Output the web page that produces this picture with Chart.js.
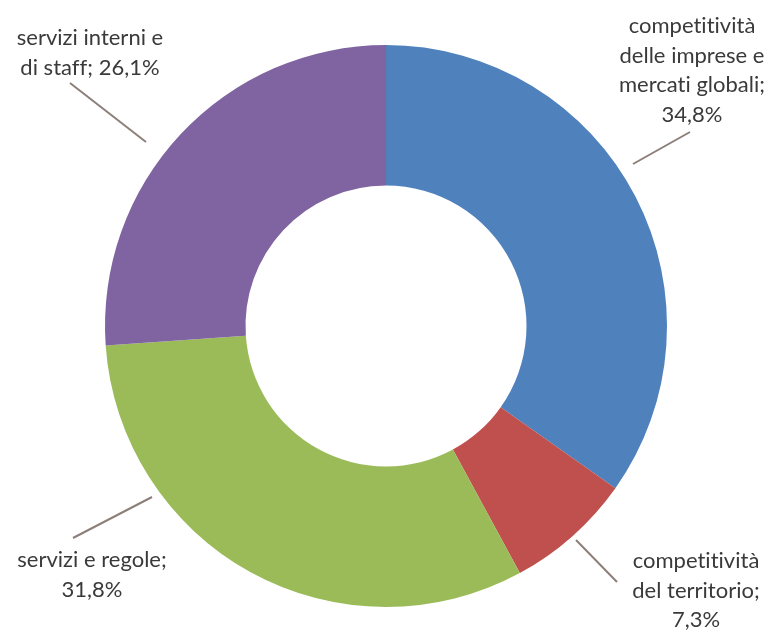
<!DOCTYPE html>
<html>
<head>
<meta charset="utf-8">
<script src="https://cdn.jsdelivr.net/npm/chart.js@4/dist/chart.umd.min.js"></script>
<style>
  html, body { margin: 0; padding: 0; background: #fff; }
  #wrap { width: 775px; height: 631px; }
</style>
</head>
<body>
<div id="wrap"><canvas id="chart1"></canvas></div>
<script>
const categories = [
    ["competitività", "delle imprese e", "mercati globali;"],
    ["competitività", "del territorio;"],
    ["servizi e regole;"],
    ["servizi interni e", "di staff;"],
];
const values = [34.8, 7.3, 31.8, 26.1];
const colors = ["#4F81BD", "#C0504D", "#9BBB59", "#8064A2"];

// label layout: text centre x, first baseline y, leader line (from label side to slice side)
const labelLayout = [
    { x: 692, y: 33, line: [[690, 132], [633, 164]] },
    { x: 696, y: 568, line: [[617, 582], [576, 540]] },
    { x: 92, y: 567, line: [[73, 538], [152, 497]] },
    { x: 90, y: 45, line: [[70, 83], [146, 142]] },
];

const fmt = (v) => v.toFixed(1).replace(".", ",") + "%";

const outsideLabels = {
    id: "outsideLabels",
    afterDraw(chart) {
        const ctx = chart.ctx;
        ctx.save();
        ctx.font = "22px Lato";
        ctx.letterSpacing = "0.01px"; // stops the "ti" ligature
        ctx.fillStyle = "#3A3A3A";
        ctx.textAlign = "center";
        ctx.textBaseline = "alphabetic";
        ctx.strokeStyle = "#8C7F7A";
        ctx.lineWidth = 2;
        const lineH = 29.5;
        values.forEach((v, i) => {
            const lay = labelLayout[i];
            const lines = categories[i].slice();
            const last = lines.pop();
            if (i === 3) {
                lines.push(last + " " + fmt(v));
            } else {
                lines.push(last, fmt(v));
            }
            lines.forEach((t, k) => ctx.fillText(t, lay.x, lay.y + k * lineH));
            ctx.beginPath();
            ctx.moveTo(lay.line[0][0], lay.line[0][1]);
            ctx.lineTo(lay.line[1][0], lay.line[1][1]);
            ctx.stroke();
        });
        ctx.restore();
    },
};

new Chart(document.getElementById("chart1"), {
    type: "doughnut",
    data: {
        labels: categories.map((c) => c.join(" ")),
        datasets: [
            {
                data: values,
                backgroundColor: colors,
                borderWidth: 0,
            },
        ],
    },
    options: {
        responsive: true,
        maintainAspectRatio: false,
        animation: false,
        cutout: "50%",
        layout: {
            padding: { left: 105, right: 108, top: 45, bottom: 24 },
        },
        plugins: {
            legend: { display: false },
            tooltip: { enabled: false },
        },
    },
    plugins: [outsideLabels],
});
</script>
</body>
</html>
